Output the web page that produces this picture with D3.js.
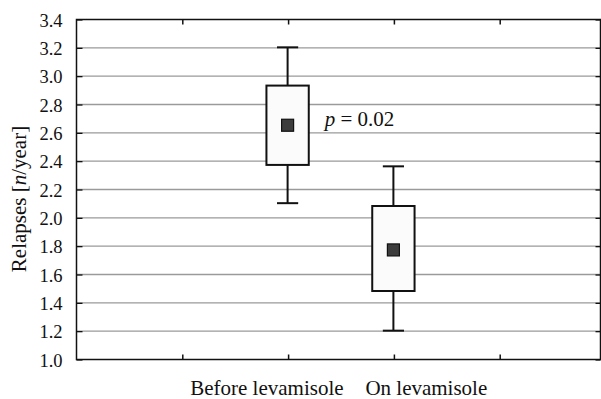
<!DOCTYPE html>
<html>
<head>
<meta charset="utf-8">
<script src="https://cdn.jsdelivr.net/npm/d3@7"></script>
<style>
  html, body { margin: 0; padding: 0; background: #fff; }
</style>
</head>
<body>
<svg id="chart" width="601" height="399"></svg>
<script>
// values
const categories = ["Before levamisole", "On levamisole"]
const catPos = [2, 3]
const means = [2.65, 1.77]
const boxLow = [2.37, 1.48]
const boxHigh = [2.93, 2.08]
const whiskerLow = [2.10, 1.20]
const whiskerHigh = [3.20, 2.36]
const yTicks = [1.0, 1.2, 1.4, 1.6, 1.8, 2.0, 2.2, 2.4, 2.6, 2.8, 3.0, 3.2, 3.4]
const xTicks = [1, 2, 3, 4]
const pText = "0.02"

const plotLeft = 76, plotRight = 600, plotTop = 19, plotBottom = 359
const serif = "'Liberation Serif', Tinos, 'Times New Roman', Times, 'DejaVu Serif', serif"

const svg = d3.select("#chart")
  .attr("font-family", serif)

const x = d3.scaleLinear().domain([0, 5]).range([plotLeft, plotLeft + 5 * 105.8])
const y = d3.scaleLinear().domain([1.0, 3.4]).range([plotBottom, plotTop])

// grid
svg.append("g")
  .selectAll("line")
  .data(yTicks.slice(1, -1))
  .join("line")
  .attr("x1", plotLeft).attr("x2", plotRight)
  .attr("y1", d => y(d) + 0.5).attr("y2", d => y(d) + 0.5)
  .attr("stroke", "#9a9a9a")
  .attr("stroke-width", 1.3)

// left axis + inner ticks
const yAxis = d3.axisLeft(y).tickValues(yTicks).tickFormat(d3.format(".1f")).tickSizeInner(-6).tickSizeOuter(0).tickPadding(14)
svg.append("g")
  .attr("transform", `translate(${plotLeft + 0.5},0.5)`)
  .call(yAxis)
  .attr("font-family", serif)
  .call(g => g.select(".domain").remove())
  .call(g => g.selectAll("line").attr("stroke", "#111").attr("stroke-width", 1.3))
  .call(g => g.selectAll("text").attr("font-size", 18.5).attr("dy", "0.36em").attr("fill", "#111"))

// right inner ticks
svg.append("g")
  .attr("transform", `translate(${plotRight + 0.5},0.5)`)
  .call(d3.axisRight(y).tickValues(yTicks).tickSizeInner(-5).tickSizeOuter(0).tickFormat(""))
  .call(g => g.select(".domain").remove())
  .call(g => g.selectAll("line").attr("stroke", "#111").attr("stroke-width", 1.3))

// bottom / top inner ticks
svg.append("g")
  .attr("transform", `translate(0.5,${plotBottom + 0.5})`)
  .call(d3.axisBottom(x).tickValues(xTicks).tickSizeInner(-5).tickSizeOuter(0).tickFormat(""))
  .call(g => g.select(".domain").remove())
  .call(g => g.selectAll("line").attr("stroke", "#111").attr("stroke-width", 1.5))
svg.append("g")
  .attr("transform", `translate(0.5,${plotTop + 0.5})`)
  .call(d3.axisTop(x).tickValues(xTicks).tickSizeInner(-5).tickSizeOuter(0).tickFormat(""))
  .call(g => g.select(".domain").remove())
  .call(g => g.selectAll("line").attr("stroke", "#111").attr("stroke-width", 1.5))

// frame
svg.append("rect")
  .attr("x", plotLeft + 0.5).attr("y", plotTop + 0.5)
  .attr("width", plotRight - plotLeft).attr("height", plotBottom - plotTop)
  .attr("fill", "none").attr("stroke", "#111").attr("stroke-width", 1.5)

// box plots
const boxW = x(0.4) - x(0)
const capW = x(0.2) - x(0)
const idx = d3.range(categories.length)
const boxes = svg.append("g")

boxes.selectAll(".whisker")
  .data(idx)
  .join("line")
  .attr("class", "whisker")
  .attr("x1", i => x(catPos[i])).attr("x2", i => x(catPos[i]))
  .attr("y1", i => y(whiskerLow[i])).attr("y2", i => y(whiskerHigh[i]))
  .attr("stroke", "#111").attr("stroke-width", 2)

boxes.selectAll(".cap")
  .data(idx.flatMap(i => [[i, whiskerLow[i]], [i, whiskerHigh[i]]]))
  .join("line")
  .attr("class", "cap")
  .attr("x1", d => x(catPos[d[0]]) - capW / 2).attr("x2", d => x(catPos[d[0]]) + capW / 2)
  .attr("y1", d => y(d[1])).attr("y2", d => y(d[1]))
  .attr("stroke", "#111").attr("stroke-width", 2)

boxes.selectAll(".box")
  .data(idx)
  .join("rect")
  .attr("class", "box")
  .attr("x", i => x(catPos[i]) - boxW / 2)
  .attr("y", i => y(boxHigh[i]))
  .attr("width", boxW)
  .attr("height", i => y(boxLow[i]) - y(boxHigh[i]))
  .attr("fill", "#fbfbfb").attr("stroke", "#111").attr("stroke-width", 2)

const sq = 12
boxes.selectAll(".mean")
  .data(idx)
  .join("rect")
  .attr("class", "mean")
  .attr("x", i => x(catPos[i]) - sq / 2)
  .attr("y", i => y(means[i]) - sq / 2)
  .attr("width", sq).attr("height", sq)
  .attr("fill", "#3c3c3c").attr("stroke", "#111").attr("stroke-width", 1.2)

// p value label
const pLabel = svg.append("text")
  .attr("x", x(2.35)).attr("y", y(2.645))
  .attr("font-size", 21).attr("fill", "#111")
pLabel.append("tspan").attr("font-style", "italic").text("p")
pLabel.append("tspan").text(" = " + pText)

// category labels
svg.append("text")
  .attr("x", x(catPos[0]) + 56).attr("y", 395)
  .attr("text-anchor", "end").attr("font-size", 21).attr("fill", "#111")
  .text(categories[0])
svg.append("text")
  .attr("x", x(catPos[1]) - 28).attr("y", 395)
  .attr("text-anchor", "start").attr("font-size", 21).attr("fill", "#111")
  .text(categories[1])

// y title
const yTitle = svg.append("text")
  .attr("transform", `translate(26,${(plotTop + plotBottom) / 2 + 10}) rotate(-90)`)
  .attr("text-anchor", "middle").attr("font-size", 21).attr("fill", "#111")
yTitle.append("tspan").text("Relapses [")
yTitle.append("tspan").attr("font-style", "italic").text("n")
yTitle.append("tspan").text("/year]")
</script>
</body>
</html>
